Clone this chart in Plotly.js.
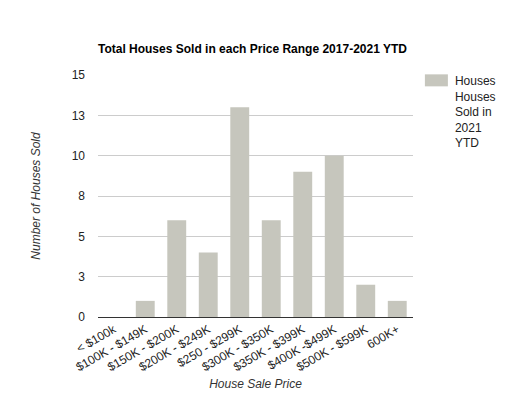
<!DOCTYPE html>
<html>
<head>
<meta charset="utf-8">
<script src="https://cdn.plot.ly/plotly-3.0.1.min.js"></script>
<style>html,body{margin:0;padding:0;background:#fff}#chart{width:510px;height:393px}</style>
</head>
<body>
<div id="chart"></div>
<script>
const categories = ["< $100k", "$100K - $149K", "$150K - $200K", "$200K - $249K", "$250 - $299K", "$300K - $350K", "$350K - $399K", "$400K -$499K", "$500K - $599K", "600K+"];
const housesSold = [0, 1, 6, 4, 13, 6, 9, 10, 2, 1];
const seriesName = "Houses<br>Houses<br>Sold in<br>2021<br>YTD";
const yTickVals = [0, 2.5, 5, 7.5, 10, 12.5, 15];
const yTickText = ["0", "3", "5", "8", "10", "13", "15"];

const font = "Liberation Sans, Arial, sans-serif";
const data = [{
  type: "bar",
  x: categories,
  y: housesSold,
  name: seriesName,
  marker: {color: "#c6c6bd"},
  showlegend: true
}];
const layout = {
  width: 510, height: 393,
  margin: {l: 98, r: 97, t: 75, b: 76, autoexpand: false},
  paper_bgcolor: "#fff", plot_bgcolor: "#fff",
  font: {family: font, size: 12, color: "#222"},
  bargap: 0.4,
  title: {text: "<b>Total Houses Sold in each Price Range 2017-2021 YTD</b>", font: {family: font, size: 12, color: "#000"}, x: 0.495, xanchor: "center", y: 0.875, yanchor: "middle"},
  xaxis: {
    tickangle: -30, tickfont: {size: 12, color: "#222"},
    showline: true, linecolor: "#333", linewidth: 1,
    ticks: "", showgrid: false,
    title: {text: "<i>House Sale Price</i>", font: {size: 12, color: "#333"}, standoff: 6},
    automargin: false
  },
  yaxis: {
    range: [0, 15], tickvals: yTickVals, ticktext: yTickText,
    showgrid: true, gridcolor: "#cccccc", zeroline: false,
    ticks: "", tickfont: {size: 12, color: "#222"}, ticklabelstandoff: 12,
    title: {text: "<i>Number of Houses Sold</i>", font: {size: 12, color: "#333"}, standoff: 28},
    automargin: false
  },
  legend: {x: 1.006, xanchor: "left", y: 1.037, yanchor: "top", valign: "top", font: {size: 12, color: "#222"}, bgcolor: "rgba(0,0,0,0)"},
  showlegend: true
};
Plotly.newPlot("chart", data, layout, {displayModeBar: false, staticPlot: true}).then(function (gd) {
  gd.querySelectorAll(".legendpoints path").forEach(function (p) {
    p.setAttribute("d", "M13,6H-10V-6H13Z");
  });
});
</script>
</body>
</html>
